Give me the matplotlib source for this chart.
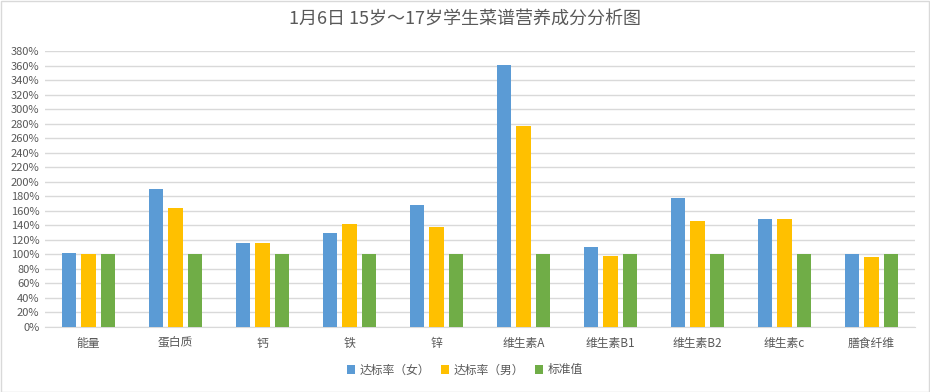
import matplotlib.pyplot as plt
import numpy as np

plt.rcParams['font.family'] = ['Noto Sans CJK SC', 'DejaVu Sans']

categories = ['能量', '蛋白质', '钙', '铁', '锌', '维生素A', '维生素B1', '维生素B2', '维生素c', '膳食纤维']
female = [102, 190, 115, 130, 168, 361, 110, 177, 149, 100]
male = [100, 164, 116, 142, 138, 277, 98, 146, 149, 97]
standard = [100, 100, 100, 100, 100, 100, 100, 100, 100, 100]
series_names = ['达标率（女）', '达标率（男）', '标准值']
colors = ['#5b9bd5', '#ffc000', '#70ad47']
yticks = list(range(0, 381, 20))

fig = plt.figure(figsize=(9.3, 3.92), dpi=100)
ax = fig.add_axes([45 / 930, 1 - 327 / 392, 870 / 930, 276 / 392])

x = np.arange(len(categories))
w = 0.172
off = 0.224
for i, (vals, name) in enumerate(zip([female, male, standard], series_names)):
    ax.bar(x + (i - 1) * off, vals, width=w, color=colors[i], label=name, zorder=3)

ax.set_xlim(-0.5, len(categories) - 0.5)
ax.set_ylim(0, 380)
ax.set_yticks(yticks)
ax.set_yticklabels([f'{t}%' for t in yticks])
ax.set_xticks(x)
ax.set_xticklabels(categories)
ax.tick_params(axis='y', length=0, labelsize=8, colors='#595959', pad=4)
ax.tick_params(axis='x', length=0, labelsize=8.5, colors='#595959', pad=7)
ax.grid(axis='y', color='#d9d9d9', linewidth=1, zorder=0)
for s in ['top', 'right', 'left']:
    ax.spines[s].set_visible(False)
ax.spines['bottom'].set_color('#d9d9d9')

fig.text(0.5, 1 - 20 / 392, '1月6日 15岁～17岁学生菜谱营养成分分析图', ha='center', va='center',
         fontsize=13, color='#595959')

leg = fig.legend(loc='center', bbox_to_anchor=(0.5, 1 - 370 / 392), ncol=3, frameon=False,
                 fontsize=8.5, handlelength=0.7, handleheight=0.7, handletextpad=0.4,
                 columnspacing=0.9)
for t in leg.get_texts():
    t.set_color('#595959')

fig.patches.append(plt.Rectangle((0.001, 0.001), 0.998, 0.997, transform=fig.transFigure,
                                 fill=False, edgecolor='#d9d9d9', linewidth=1))

fig.savefig('out.png', dpi=100)
